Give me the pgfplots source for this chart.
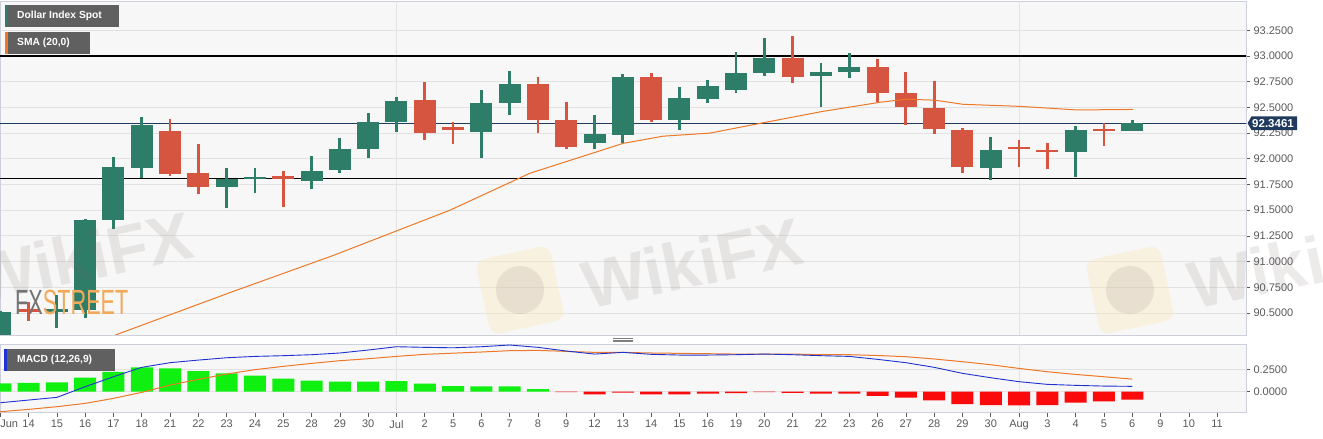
\documentclass[border=0pt]{standalone}
\usepackage{pgfplots}
\pgfplotsset{compat=1.18}
\usepackage{pgfplotstable}
\usepackage{fontspec}
\setmainfont{Liberation Sans}
\definecolor{cgreen}{RGB}{45,125,105}
\definecolor{cred}{RGB}{214,85,64}
\definecolor{smacol}{RGB}{236,120,40}
\definecolor{macdblue}{RGB}{30,50,210}
\definecolor{hgreen}{RGB}{16,240,16}
\definecolor{hred}{RGB}{250,10,10}
\definecolor{plotbg}{RGB}{247,247,247}
\definecolor{gridcol}{RGB}{226,226,226}
\definecolor{bordercol}{RGB}{205,208,218}
\definecolor{labelcol}{RGB}{90,90,90}
\definecolor{pricebg}{RGB}{31,58,92}
\definecolor{boxbg}{RGB}{96,96,96}
\definecolor{wmcol}{RGB}{120,100,100}
\definecolor{logocol}{RGB}{250,232,180}
\definecolor{fxorange}{RGB}{242,170,90}

\pgfplotstableread{
i o h l c
0 90.00 90.52 89.90 90.513
2 90.51 90.675 90.354 90.535
3 90.529 91.41 90.451 91.405
4 91.405 92.015 91.314 91.917
5 91.908 92.404 91.81 92.329
8 91.729 91.908 91.518 91.803
9 91.80 91.908 91.664 91.822
11 91.784 92.027 91.703 91.884
12 91.891 92.199 91.859 92.092
13 92.092 92.448 92.005 92.361
14 92.355 92.604 92.264 92.565
17 92.264 92.669 92.005 92.54
18 92.546 92.854 92.426 92.728
21 92.151 92.426 92.092 92.238
22 92.232 92.825 92.151 92.793
24 92.377 92.696 92.28 92.594
25 92.582 92.767 92.54 92.711
26 92.669 93.042 92.637 92.832
27 92.838 93.172 92.805 92.978
29 92.805 92.929 92.507 92.847
30 92.847 93.026 92.783 92.896
35 91.908 92.215 91.794 92.086
38 92.066 92.319 91.82 92.28
40 92.27 92.377 92.27 92.3461
}\greencandles

\pgfplotstableread{
i o h l c
1 90.535 90.61 90.42 90.505
6 92.27 92.384 91.833 91.852
7 91.865 92.141 91.655 91.723
10 91.83 91.884 91.528 91.80
15 92.572 92.744 92.183 92.254
16 92.31 92.361 92.144 92.28
19 92.728 92.793 92.248 92.377
20 92.377 92.55 92.092 92.112
23 92.793 92.838 92.361 92.377
28 92.978 93.195 92.734 92.793
31 92.896 92.968 92.555 92.637
32 92.637 92.847 92.329 92.501
33 92.491 92.757 92.241 92.29
34 92.28 92.297 91.859 91.923
36 92.118 92.183 91.917 92.095
37 92.09 92.157 91.898 92.065
39 92.293 92.351 92.125 92.27
}\redcandles

\pgfplotstableread{
i v
3.9 90.26
4.11 90.29
8.23 90.71
11.77 91.06
15.89 91.50
18.72 91.86
22.01 92.15
23.42 92.22
25.08 92.25
26.95 92.35
29.04 92.46
31.09 92.55
32.03 92.58
33.03 92.57
34.02 92.53
36.03 92.51
38.05 92.475
40.03 92.48
}\sma

\pgfplotstableread{
i m s
0 -0.123 -0.223
1 -0.093 -0.197
2 -0.063 -0.167
3 0.056 -0.130
4 0.167 -0.074
5 0.272 -0.007
6 0.324 0.074
7 0.353 0.138
8 0.379 0.197
9 0.394 0.246
10 0.402 0.283
11 0.413 0.316
12 0.432 0.346
13 0.465 0.368
14 0.502 0.394
15 0.495 0.417
16 0.490 0.430
17 0.502 0.443
18 0.521 0.458
19 0.495 0.461
20 0.454 0.450
21 0.420 0.439
22 0.439 0.439
23 0.417 0.432
24 0.409 0.428
25 0.409 0.424
26 0.413 0.420
27 0.420 0.420
28 0.413 0.420
29 0.402 0.413
30 0.394 0.413
31 0.361 0.404
32 0.324 0.391
33 0.272 0.365
34 0.205 0.335
35 0.156 0.301
36 0.112 0.260
37 0.082 0.223
38 0.071 0.193
39 0.063 0.167
40 0.060 0.141
}\macd

\pgfplotstableread{
i h
0 0.093
1 0.100
2 0.104
3 0.156
4 0.220
5 0.272
6 0.260
7 0.231
8 0.205
9 0.179
10 0.145
11 0.123
12 0.112
13 0.112
14 0.119
15 0.089
16 0.063
17 0.060
18 0.060
19 0.030
}\histpos

\pgfplotstableread{
i h
20 -0.005
21 -0.030
22 -0.010
23 -0.030
24 -0.030
25 -0.020
26 -0.015
27 -0.004
28 -0.012
29 -0.020
30 -0.020
31 -0.045
32 -0.067
33 -0.097
34 -0.138
35 -0.149
36 -0.153
37 -0.149
38 -0.123
39 -0.108
40 -0.089
}\histneg

\pgfplotsset{
  panel/.style={
    scale only axis, width=1246pt,
    xmin=-0.01, xmax=44.02,
    axis background/.style={fill=plotbg},
    axis line style={draw=bordercol, line width=0.8pt},
    ymajorgrids, grid style={draw=gridcol, line width=0.8pt},
    ytick pos=right, tick align=outside,
    major tick length=4pt,
    tick style={draw=labelcol, line width=0.6pt},
    yticklabel style={font=\fontsize{11}{13}\selectfont, text=labelcol},
    xticklabel style={font=\fontsize{11}{13}\selectfont, text=labelcol},
    extra x ticks={14,36}, extra x tick labels={},
    extra x tick style={grid=major, major tick length=0pt},
  },
  candle/.style={draw=none, no markers, forget plot,
    error bars/.cd, y dir=plus, y explicit, error mark=none},
}

\begin{document}
\begin{tikzpicture}[x=1pt,y=1pt]
\path[use as bounding box, fill=white] (0pt,0pt) rectangle (1323pt,439pt);

% ---------------- price panel
\begin{axis}[panel,
  at={(0pt,104pt)}, anchor=south west, height=334pt,
  ymin=90.286, ymax=93.535,
  xtick=\empty,
  ytick={90.5,90.75,91,91.25,91.5,91.75,92,92.25,92.5,92.75,93,93.25},
  yticklabels={90.5000,90.7500,91.0000,91.2500,91.5000,91.7500,92.0000,92.2500,92.5000,92.7500,93.0000,93.2500},
]
\addplot[black, line width=1.2pt] coordinates {(-1,93) (45,93)};
\addplot[black, line width=1.2pt] coordinates {(-1,91.81) (45,91.81)};
\addplot[pricebg, line width=0.8pt] coordinates {(-1,92.3461) (45,92.3461)};
% wicks
\addplot[candle, error bar style={line width=2.8pt, draw=cgreen}]
  table[x=i, y=l, y error plus expr=\thisrow{h}-\thisrow{l}] {\greencandles};
\addplot[candle, error bar style={line width=2.8pt, draw=cred}]
  table[x=i, y=l, y error plus expr=\thisrow{h}-\thisrow{l}] {\redcandles};
% bodies
\addplot[candle, error bar style={line width=22pt, draw=cgreen}]
  table[x=i, y=o, y error plus expr=\thisrow{c}-\thisrow{o}] {\greencandles};
\addplot[candle, error bar style={line width=22pt, draw=cred}]
  table[x=i, y=c, y error plus expr=\thisrow{o}-\thisrow{c}] {\redcandles};
% SMA
\addplot[smacol, line width=1pt] table[x=i, y=v] {\sma};
\coordinate (pl) at (axis cs:44.02,92.3461);
\end{axis}

% ---------------- MACD panel
\begin{axis}[panel,
  at={(0pt,26.3pt)}, anchor=south west, height=68.4pt,
  ymin=-0.234, ymax=0.529,
  xtick={0,1,...,43}, xtick pos=bottom,
  xticklabels={{\makebox[0pt][l]{Jun}},14,15,16,17,18,21,22,23,24,25,28,29,30,Jul,2,5,6,7,8,9,12,13,14,15,16,19,20,21,22,23,26,27,28,29,30,Aug,3,4,5,6,9,10,11},
  ytick={0,0.25}, yticklabels={0.0000,0.2500},
]
\addplot[ybar, bar width=22pt, bar shift=0pt, fill=hgreen, draw=none] table[x=i, y=h] {\histpos};
\addplot[ybar, bar width=22pt, bar shift=0pt, fill=hred, draw=none] table[x=i, y=h] {\histneg};
\addplot[smacol, line width=1pt] table[x=i, y=s] {\macd};
\addplot[macdblue, line width=0.9pt] table[x=i, y=m] {\macd};
\end{axis}

% ---------------- watermarks
\fill[logocol, opacity=0.35, rounded corners=10pt, rotate around={12:(520,149)}] (482,111) rectangle (558,187);
\fill[wmcol, opacity=0.12] (520,149) circle (24);
\fill[logocol, opacity=0.35, rounded corners=10pt, rotate around={12:(1130,149)}] (1092,111) rectangle (1168,187);
\fill[wmcol, opacity=0.12] (1130,149) circle (24);
\node[rotate=12, font=\bfseries\fontsize{67}{70}\selectfont, text=wmcol, text opacity=0.13] at (82,182) {WikiFX};
\node[rotate=12, font=\bfseries\fontsize{67}{70}\selectfont, text=wmcol, text opacity=0.13] at (692,176) {WikiFX};
\node[rotate=12, font=\bfseries\fontsize{67}{70}\selectfont, text=wmcol, text opacity=0.13] at (1298,176) {WikiFX};
\node[anchor=south west, inner sep=0, xscale=0.62, font=\fontsize{35}{36}\selectfont] at (15,124)
  {\textcolor{black!55}{FX}\textcolor{fxorange}{STREET}};

% ---------------- panel separator
\draw[black!50, line width=0.6pt] (613,100.5) -- (633,100.5) (613,99) -- (633,99) (613,97.5) -- (633,97.5);

% ---------------- current price label
\fill[pricebg, shift={(pl)}] (1.5,0) -- (5.5,6.8) -- (51,6.8) -- (51,-6.8) -- (5.5,-6.8) -- cycle;
\node[text=white, font=\bfseries\fontsize{11.5}{13}\selectfont, inner sep=0] at ([xshift=27pt]pl) {92.3461};

% ---------------- series boxes
\fill[boxbg] (5,412) rectangle (119,434);
\fill[cgreen] (5,412) rectangle (8,434);
\node[anchor=west, inner sep=0, text=white, font=\bfseries\fontsize{10.3}{12}\selectfont] at (17,423) {Dollar Index Spot};
\fill[boxbg] (5,385.3) rectangle (90,407);
\fill[smacol] (5,385.3) rectangle (8,407);
\node[anchor=west, inner sep=0, text=white, font=\bfseries\fontsize{10.3}{12}\selectfont] at (17,396.2) {SMA (20,0)};
\fill[boxbg] (4,68.3) rectangle (115,90);
\fill[macdblue] (4,68.3) rectangle (7,90);
\node[anchor=west, inner sep=0, text=white, font=\bfseries\fontsize{10.3}{12}\selectfont] at (17,79.2) {MACD (12,26,9)};
\end{tikzpicture}
\end{document}
